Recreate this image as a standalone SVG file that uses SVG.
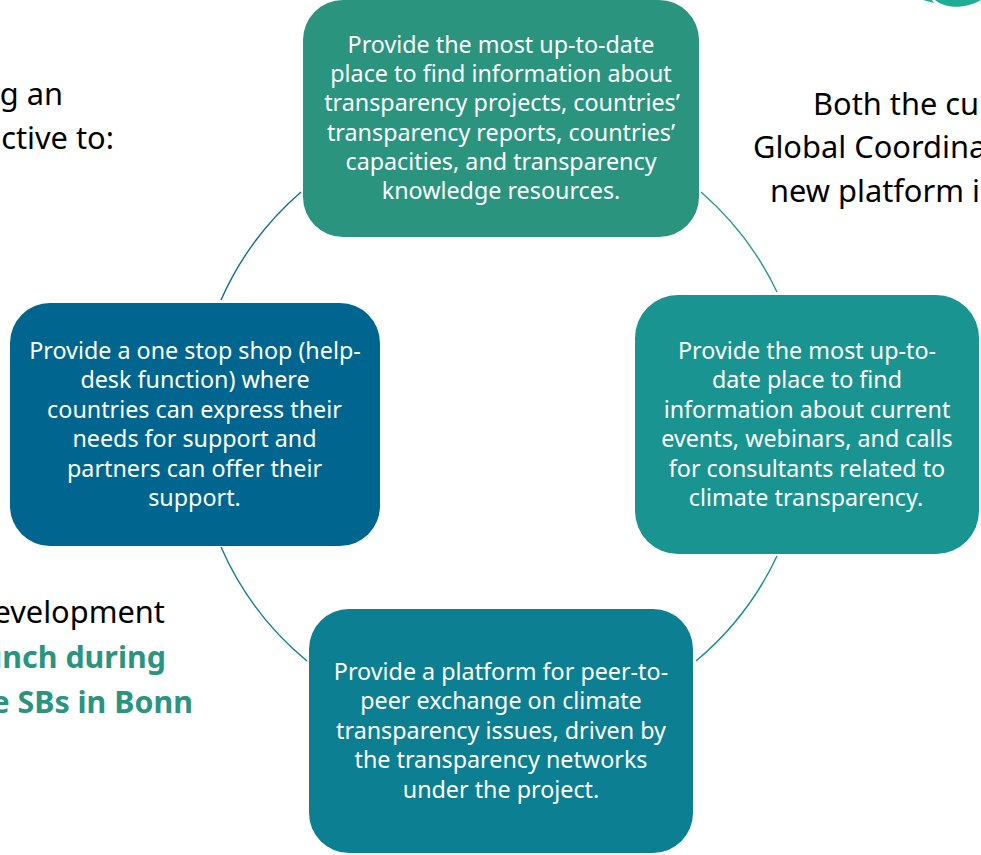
<svg xmlns="http://www.w3.org/2000/svg" width="981" height="855" viewBox="0 0 981 855">
<style>
text{font-family:"Noto Sans","Open Sans",sans-serif}
.n text{fill:#fff;font-size:23.3px;text-anchor:middle}
.o{fill:#000;font-size:30.8px}
.g{fill:#2a947e;font-size:30.4px;font-weight:700}
.c{fill:none;stroke-width:1.4}
</style>
<rect width="981" height="855" fill="#fff"/>
<g id="logo" fill="#20ad96"><path d="M935 0C945 9 966 9 981 0Z"/><path d="M923 0L932 0L934 3Z"/></g>
<text class="o" x="63" y="105" text-anchor="end">g an</text>
<text class="o" x="114" y="149" text-anchor="end">ctive to:</text>
<text class="o" x="813" y="115">Both the cu</text>
<text class="o" x="753" y="158">Global Coordina</text>
<text class="o" x="770" y="202">new platform i</text>
<text class="o" x="165" y="623" text-anchor="end">evelopment</text>
<text class="g" x="166" y="668" text-anchor="end">unch during</text>
<text class="g" x="193" y="713" text-anchor="end">e SBs in Bonn</text>
<g id="connectors">
<path class="c" stroke="#269a88" d="M701 192A307 307 0 0 1 777 292"/>
<path class="c" stroke="#1a8f90" d="M777 556A307 307 0 0 1 696 661"/>
<path class="c" stroke="#0c7f93" d="M307 661A307 307 0 0 1 221 547"/>
<path class="c" stroke="#0c6f99" d="M221 300A307 307 0 0 1 301 192"/>
</g>
<g id="node-top" class="n"><rect x="303" y="0" width="396" height="237" rx="40" fill="#2a947e"/>
<text x="501" y="53">Provide the most up-to-date</text><text x="501" y="82">place to find information about</text><text x="502" y="111">transparency projects, countries’</text><text x="501" y="141">transparency reports, countries’</text><text x="501" y="170">capacities, and transparency</text><text x="501" y="199">knowledge resources.</text></g>
<g id="node-right" class="n"><rect x="635" y="295" width="344" height="259" rx="43" fill="#1a9490"/>
<text x="807" y="359">Provide the most up-to-</text><text x="807" y="388">date place to find</text><text x="807" y="418">information about current</text><text x="807" y="447">events, webinars, and calls</text><text x="807" y="477">for consultants related to</text><text x="806" y="506">climate transparency.</text></g>
<g id="node-bottom" class="n"><rect x="309" y="609" width="384" height="244" rx="40" fill="#0c7f93"/>
<text x="501" y="680">Provide a platform for peer-to-</text><text x="501" y="709">peer exchange on climate</text><text x="501" y="739">transparency issues, driven by</text><text x="501" y="768">the transparency networks</text><text x="501" y="798">under the project.</text></g>
<g id="node-left" class="n"><rect x="10" y="303" width="370" height="243" rx="40" fill="#006690"/>
<text x="195" y="359">Provide a one stop shop (help-</text><text x="195" y="388">desk function) where</text><text x="194.5" y="418">countries can express their</text><text x="194.5" y="447">needs for support and</text><text x="194.5" y="477">partners can offer their</text><text x="194.5" y="506">support.</text></g>
</svg>
